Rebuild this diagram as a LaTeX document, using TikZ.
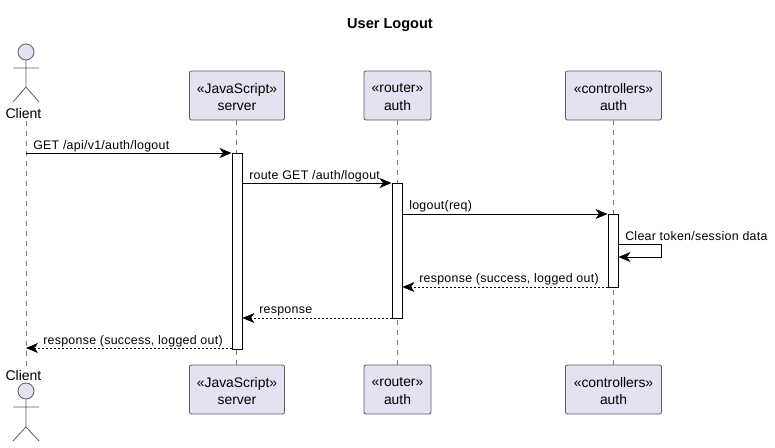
\documentclass[tikz,border=0pt]{standalone}
\usepackage{fontspec}
\setmainfont{Liberation Sans}
\newfontfamily\labfont[LetterSpace=2.2]{Liberation Sans}
\usetikzlibrary{arrows.meta}
\definecolor{pfill}{HTML}{E2E2F0}
\definecolor{pline}{HTML}{5A5A6A}
\definecolor{lifeg}{HTML}{7A7A7A}
\newcommand{\twolines}[2]{\raisebox{-1.1pt}[\height][\depth]{#1}\\\raisebox{-1.1pt}[\height][\depth]{#2}}
\tikzset{
  x=0.75pt,y=-0.75pt,
  px/.style={inner sep=0pt,outer sep=0pt},
  pbox/.style={draw=pline,fill=pfill,rounded corners=1.5pt,line width=0.6pt,inner sep=0pt,align=center,font=\fontsize{10.4}{13.2}\selectfont,minimum height=36.75pt},
  life/.style={draw=lifeg,line width=0.5pt,dash pattern=on 3.75pt off 3.75pt},
  act/.style={draw=black,fill=white,line width=0.7pt},
  msg/.style={draw=black,line width=0.75pt,-{Stealth[length=9pt,width=7.5pt,inset=2.6pt]}},
  ret/.style={draw=black,line width=0.5pt,dash pattern=on 1.5pt off 1.5pt,-{Stealth[length=9pt,width=7.5pt,inset=2.6pt,line width=0.5pt,sep=0pt]}},
  lab/.style={inner sep=0pt,anchor=base west,font=\labfont\fontsize{9.3}{11}\selectfont},
  actorline/.style={draw=pline,line width=0.6pt},
  head/.style={draw=pline,fill=pfill,line width=0.6pt,circle,minimum size=12pt,inner sep=0pt}
}
\begin{document}
\begin{tikzpicture}
\useasboundingbox (0,0) rectangle (775,447);
% title
\node[px,font=\bfseries\fontsize{10.9}{12}\selectfont] (title) at (390,25.5) {User Logout};
% participant boxes
\node[pbox,minimum width=71.25pt] (st) at (237,95.5) {\twolines{«JavaScript»}{server}};
\node[pbox,minimum width=50.25pt] (rt) at (397.5,95.5) {\twolines{«router»}{auth}};
\node[pbox,minimum width=72pt] (ct) at (613.5,95.5) {\twolines{«controllers»}{auth}};
\node[pbox,minimum width=71.25pt] (sb) at (237,389.5) {\twolines{«JavaScript»}{server}};
\node[pbox,minimum width=50.25pt] (rb) at (397.5,389.5) {\twolines{«router»}{auth}};
\node[pbox,minimum width=72pt] (cb) at (613.5,389.5) {\twolines{«controllers»}{auth}};
% actors
\node[px,font=\fontsize{10.5}{12}\selectfont] (cltop) at (23.5,113) {Client};
\node[px,font=\fontsize{10.5}{12}\selectfont] (clbot) at (23.5,375) {Client};
\node[head] (headt) at (26,52) {};
\node[head] (headb) at (26,391) {};
\coordinate (hipt) at (26,87); \coordinate (armtl) at (13,68); \coordinate (armtr) at (39,68);
\coordinate (legtl) at (13,102); \coordinate (legtr) at (39,102);
\coordinate (hipb) at (26,427); \coordinate (armbl) at (13,407); \coordinate (armbr) at (39,407);
\coordinate (legbl) at (13,441); \coordinate (legbr) at (39,441);
\draw[actorline] (headt.south) -- (hipt) (armtl) -- (armtr) (legtl) -- (hipt) -- (legtr);
\draw[actorline] (headb.south) -- (hipb) (armbl) -- (armbr) (legbl) -- (hipb) -- (legbr);
% lifelines
\coordinate (l1t) at (26,121); \coordinate (l1b) at (26,366);
\draw[life] (l1t) -- (l1b);
\draw[life] (st.south -| 236.5,0) -- (sb.north -| 236.5,0);
\draw[life] (rt.south -| 397,0) -- (rb.north -| 397,0);
\draw[life] (ct.south -| 613,0) -- (cb.north -| 613,0);
% activations
\node[act,minimum width=7.5pt,minimum height=147pt,inner sep=0pt] (as) at (237,251) {};
\node[act,minimum width=7.5pt,minimum height=101.25pt,inner sep=0pt] (ar) at (397,250.5) {};
\node[act,minimum width=7.5pt,minimum height=54.75pt,inner sep=0pt] (ac) at (613,250.5) {};
% message endpoints
\coordinate (m1a) at (26,153);
\coordinate (m2a) at (as.east |- 0,183);
\coordinate (m3a) at (ar.east |- 0,214);
\coordinate (m4a) at (ac.east |- 0,244);
\coordinate (m4b) at (661,244);
\coordinate (m4c) at (661,257);
\coordinate (m4d) at (ac.east |- 0,257);
\coordinate (m5a) at (ac.west |- 0,287);
\coordinate (m6a) at (ar.west |- 0,318);
\coordinate (m7a) at (as.west |- 0,348);
\coordinate (m7b) at (26,348);
% messages
\draw[msg] (m1a) -- (as.west |- m1a);
\draw[msg] (m2a) -- (ar.west |- m2a);
\draw[msg] (m3a) -- (ac.west |- m3a);
\draw[msg] (m4a) -- (m4b) -- (m4c) -- (m4d);
\draw[ret] (m5a) -- (ar.east |- m5a);
\draw[ret] (m6a) -- (as.east |- m6a);
\draw[ret] (m7a) -- (m7b);
% labels
\node[lab] (t1) at (33,149) {GET /api/v1/auth/logout};
\node[lab] (t2) at (249,179) {route GET /auth/logout};
\node[lab] (t3) at (409,209) {logout(req)};
\node[lab] (t4) at (625,240) {Clear token/session data};
\node[lab] (t5) at (419,282.5) {response (success, logged out)};
\node[lab] (t6) at (259,313) {response};
\node[lab] (t7) at (43,344) {response (success, logged out)};
\end{tikzpicture}
\end{document}
